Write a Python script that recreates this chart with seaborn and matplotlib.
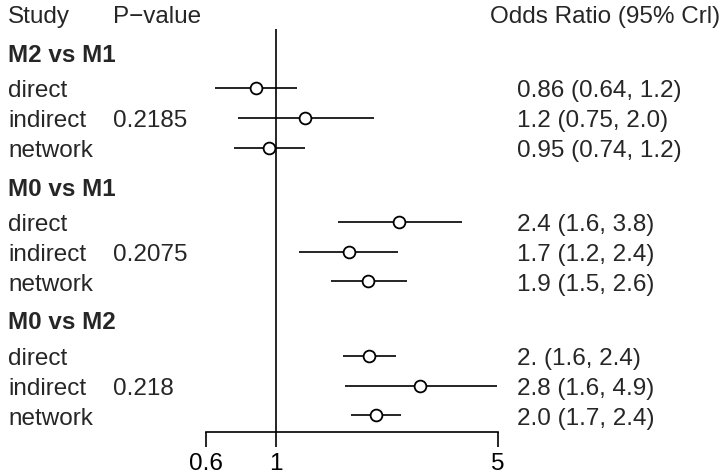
import matplotlib
matplotlib.use('Agg')
import matplotlib.pyplot as plt
import matplotlib.transforms as mtransforms
import seaborn as sns
import numpy as np
import pandas as pd

# data
groups = ['M2 vs M1', 'M0 vs M1', 'M0 vs M2']
studies = ['direct', 'indirect', 'network']
pvals = ['0.2185', '0.2075', '0.218']
est = [0.86, 1.23, 0.95, 2.44, 1.70, 1.95, 1.96, 2.84, 2.06]
lower = [0.64, 0.755, 0.735, 1.565, 1.18, 1.49, 1.62, 1.65, 1.72]
upper = [1.16, 2.03, 1.23, 3.85, 2.42, 2.58, 2.39, 4.97, 2.47]
or_labels = ['0.86 (0.64, 1.2)', '1.2 (0.75, 2.0)', '0.95 (0.74, 1.2)',
             '2.4 (1.6, 3.8)', '1.7 (1.2, 2.4)', '1.9 (1.5, 2.6)',
             '2. (1.6, 2.4)', '2.8 (1.6, 4.9)', '2.0 (1.7, 2.4)']
xticks = [0.6, 1, 5]
xtick_labels = ['0.6', '1', '5']

# row layout: each group gets a heading then three rows
rows = []
for g, grp in enumerate(groups):
    for i, st in enumerate(studies):
        rows.append({'group': grp, 'study': st, 'pos': g * 4.5 + i})
df = pd.DataFrame(rows)
df['est'] = est
df['lower'] = lower
df['upper'] = upper
df['label'] = or_labels
head_pos = [g * 4.5 - 1.2 for g in range(len(groups))]
axis_pos = df['pos'].max() + 0.55

sns.set_theme(style='white')
plt.rcParams['font.family'] = ['Liberation Sans', 'DejaVu Sans']
FS = 17.5

fig = plt.figure(figsize=(7.25, 4.77), dpi=100)
ax = fig.add_axes([0, 0, 1, 1])
ax.set_xscale('log')
ax.set_xlim(np.exp(-276.3 / 137.7), np.exp((725 - 276.3) / 137.7))
ax.set_ylim(388 / 29.75, -89 / 29.75)

# reference line at OR = 1
ax.vlines(1, -2.0, axis_pos, color='black', lw=1.2, zorder=1)
# credible intervals
ax.hlines(df['pos'], df['lower'], df['upper'], color='black', lw=1.2, zorder=2)
sns.scatterplot(data=df, x='est', y='pos', ax=ax, marker='o', s=72,
                facecolor='white', edgecolor='black', linewidth=1.3, zorder=3,
                legend=False)

# x axis drawn as bottom spine
for s in ['top', 'right', 'left']:
    ax.spines[s].set_visible(False)
ax.spines['bottom'].set_position(('data', axis_pos))
ax.spines['bottom'].set_bounds(xticks[0], xticks[-1])
ax.spines['bottom'].set_color('black')
ax.spines['bottom'].set_linewidth(1.2)
ax.set_xticks(xticks)
ax.set_xticks([], minor=True)
ax.set_xticklabels(xtick_labels, fontsize=FS)
ax.tick_params(axis='x', direction='out', length=10.5, width=1.2, pad=4.5,
               colors='black', bottom=True)
ax.set_yticks([])
ax.set_xlabel('')
ax.set_ylabel('')

# text columns
trans = mtransforms.blended_transform_factory(ax.transAxes, ax.transData)
trans = mtransforms.offset_copy(trans, fig=fig, y=-6, units='points')
x_study, x_p, x_or, x_orh = 8 / 725, 113 / 725, 517 / 725, 490 / 725
ax.text(x_study, -2.5, 'Study', transform=trans, fontsize=FS, va='baseline')
ax.text(x_p, -2.5, 'P\u2212value', transform=trans, fontsize=FS, va='baseline')
ax.text(x_orh, -2.5, 'Odds Ratio (95% Crl)', transform=trans, fontsize=FS,
        va='baseline')
for g, grp in enumerate(groups):
    ax.text(x_study, head_pos[g], grp, transform=trans, fontsize=FS,
            fontweight='bold', va='baseline')
for _, r in df.iterrows():
    ax.text(x_study, r['pos'], r['study'], transform=trans, fontsize=FS,
            va='baseline')
    ax.text(x_or, r['pos'], r['label'], transform=trans, fontsize=FS,
            va='baseline')
for g, p in enumerate(pvals):
    ax.text(x_p, df.loc[(df['group'] == groups[g]) & (df['study'] == 'indirect'),
                        'pos'].iloc[0],
            p, transform=trans, fontsize=FS, va='baseline')

fig.savefig('out.png', dpi=100, facecolor='white')
